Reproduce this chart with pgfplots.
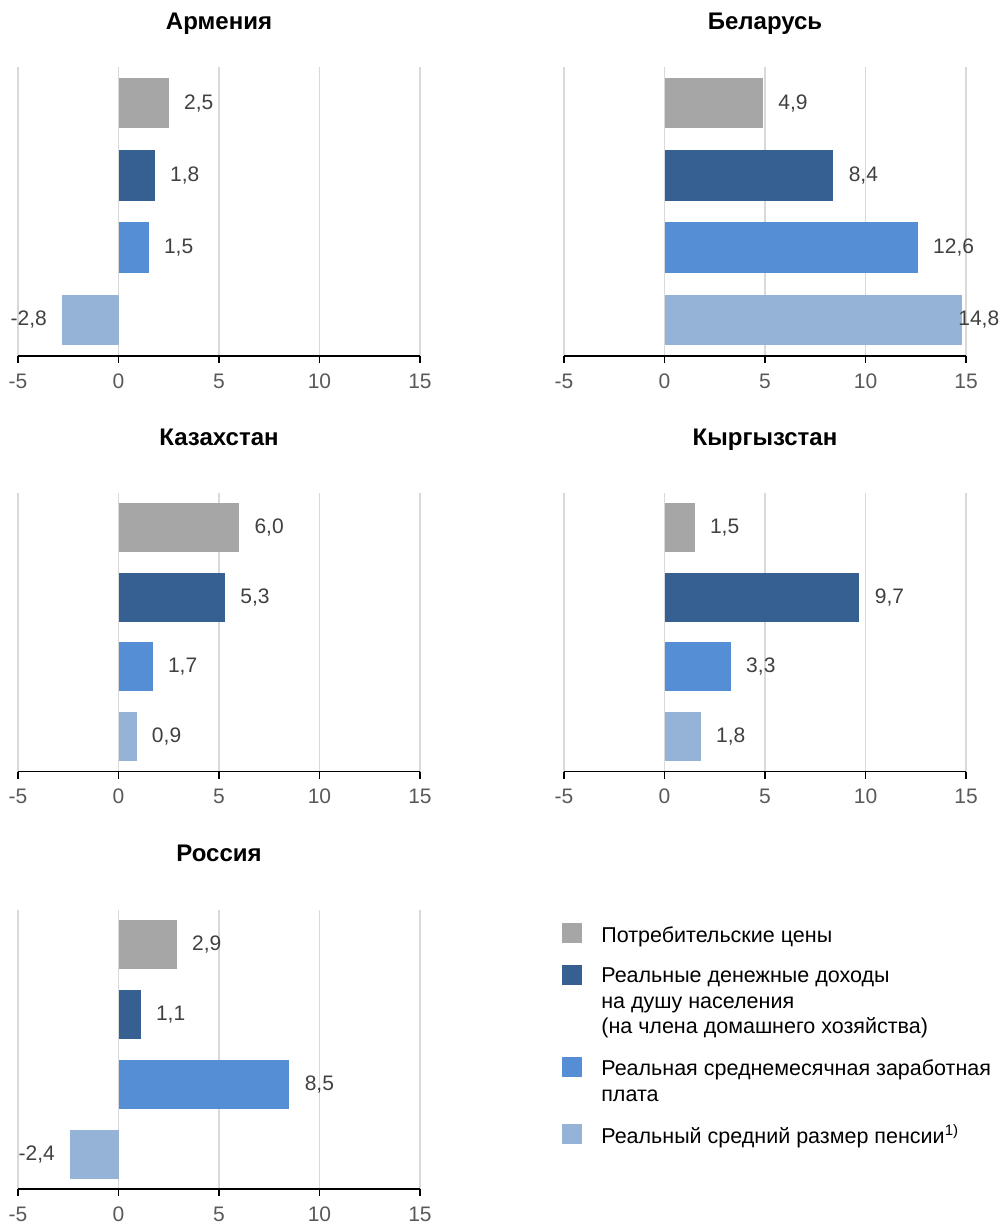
\documentclass[border=0pt]{standalone}
\usepackage{fontspec}
\setmainfont{Liberation Sans}
\usepackage{pgfplots}
\pgfplotsset{compat=1.18}
\definecolor{cgray}{HTML}{A6A6A6}
\definecolor{cdark}{HTML}{376092}
\definecolor{cmid}{HTML}{558ED5}
\definecolor{clight}{HTML}{95B3D7}
\definecolor{gridc}{HTML}{D9D9D9}
\definecolor{tickc}{HTML}{595959}
\definecolor{valc}{HTML}{404040}
\pgfplotsset{
  sq/.style={legend image code/.code={\fill[##1,yshift=#1] (0pt,-3.75pt) rectangle (10pt,6.25pt);}},
  b/.style={xbar, bar shift=0pt, bar width=0.7, draw=none, fill=#1},
  pos/.style={nodes near coords style={anchor=west, inner xsep=7.5pt}},
  neg/.style={nodes near coords style={anchor=east, inner xsep=7.5pt}},
  panel/.style={
    width=201pt, scale only axis,
    xmin=-5, xmax=15, ymin=0.5, ymax=4.5, y dir=reverse,
    xtick={-5,0,5,10,15}, ytick=\empty,
    axis x line*=bottom, axis y line=none,
    xmajorgrids, grid style={draw=gridc, line width=0.6pt},
    x axis line style={black, line width=0.8pt},
    xtick style={black, line width=0.8pt},
    tick align=outside, major tick length=3.5pt,
    xticklabel style={font=\fontsize{10.5}{12}\selectfont, text=tickc, anchor=base, yshift=-12.5pt},
    /pgf/number format/assume math mode=true,
    clip=false,
    point meta=x,
    nodes near coords={\pgfmathprintnumber[fixed,fixed zerofill,precision=1,use comma,assume math mode=true]{\pgfplotspointmeta}},
    nodes near coords style={font=\fontsize{10.5}{12}\selectfont, text=valc},
    title style={font=\bfseries\fontsize{12}{14}\selectfont, anchor=base, at={(0.5,1)}},
  }
}
\begin{document}
\begin{tikzpicture}
\useasboundingbox (0,0) rectangle (500.5pt,-612pt);
% Armenia
\begin{axis}[panel, height=144.5pt, at={(9pt,-178pt)}, anchor=south west,
  title={Армения}, title style={yshift=13pt}]
\addplot[b=cgray, pos] coordinates {(2.5,1)};
\addplot[b=cdark, pos] coordinates {(1.8,2)};
\addplot[b=cmid, pos] coordinates {(1.5,3)};
\addplot[b=clight, neg] coordinates {(-2.8,4)};
\end{axis}
% Belarus
\begin{axis}[panel, height=144.5pt, at={(282pt,-178pt)}, anchor=south west,
  title={Беларусь}, title style={yshift=13pt}]
\addplot[b=cgray, pos] coordinates {(4.9,1)};
\addplot[b=cdark, pos] coordinates {(8.4,2)};
\addplot[b=cmid, pos] coordinates {(12.6,3)};
\addplot[b=clight, nodes near coords style={anchor=west, inner xsep=0pt, xshift=-2pt}] coordinates {(14.8,4)};
\end{axis}
% Kazakhstan
\begin{axis}[panel, height=139.5pt, at={(9pt,-385.75pt)}, anchor=south west,
  title={Казахстан}, title style={yshift=17.5pt}]
\addplot[b=cgray, pos] coordinates {(6.0,1)};
\addplot[b=cdark, pos] coordinates {(5.3,2)};
\addplot[b=cmid, pos] coordinates {(1.7,3)};
\addplot[b=clight, pos] coordinates {(0.9,4)};
\end{axis}
% Kyrgyzstan
\begin{axis}[panel, height=139.5pt, at={(282pt,-385.75pt)}, anchor=south west,
  title={Кыргызстан}, title style={yshift=17.5pt}]
\addplot[b=cgray, pos] coordinates {(1.5,1)};
\addplot[b=cdark, pos] coordinates {(9.7,2)};
\addplot[b=cmid, pos] coordinates {(3.3,3)};
\addplot[b=clight, pos] coordinates {(1.8,4)};
\end{axis}
% Russia
\begin{axis}[panel, height=139.5pt, at={(9pt,-594.5pt)}, anchor=south west,
  title={Россия}, title style={yshift=18.5pt},
  legend style={draw=none, fill=none, inner sep=0pt, at={(1.3516,0.957)}, anchor=north west,
    font=\fontsize{10.75}{12.75}\selectfont, row sep=7.5pt, column sep=7.8pt},
  legend cell align=left]
\addplot[b=cgray, pos, sq=0pt] coordinates {(2.9,1)};
\addlegendentry{Потребительские цены}
\addplot[b=cdark, pos, sq=12.75pt] coordinates {(1.1,2)};
\addlegendentry[align=left]{Реальные денежные доходы\\на душу населения\\(на члена домашнего хозяйства)}
\addplot[b=cmid, pos, sq=6.375pt] coordinates {(8.5,3)};
\addlegendentry[align=left]{Реальная среднемесячная заработная\\плата}
\addplot[b=clight, neg, sq=0pt] coordinates {(-2.4,4)};
\addlegendentry{Реальный средний размер пенсии\textsuperscript{\smash{1)}}}
\end{axis}
\end{tikzpicture}
\end{document}
